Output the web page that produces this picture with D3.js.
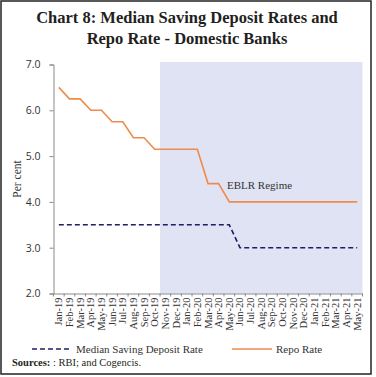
<!DOCTYPE html>
<html>
<head>
<meta charset="utf-8">
<script src="https://cdn.jsdelivr.net/npm/d3@7"></script>
<style>
  body { margin: 0; background: #fff; }
  svg { display: block; }
</style>
</head>
<body>
<svg id="chart" width="376" height="377"></svg>
<script>
// Months on the x axis
const months = ["Jan-19","Feb-19","Mar-19","Apr-19","May-19","Jun-19","Jul-19","Aug-19","Sep-19","Oct-19",
  "Nov-19","Dec-19","Jan-20","Feb-20","Mar-20","Apr-20","May-20","Jun-20","Jul-20","Aug-20","Sep-20",
  "Oct-20","Nov-20","Dec-20","Jan-21","Feb-21","Mar-21","Apr-21","May-21"];

// Median saving deposit rate (per cent)
const savingRate = [3.5,3.5,3.5,3.5,3.5,3.5,3.5,3.5,3.5,3.5,
  3.5,3.5,3.5,3.5,3.5,3.5,3.5,3.0,3.0,3.0,3.0,
  3.0,3.0,3.0,3.0,3.0,3.0,3.0,3.0];

// Repo rate (per cent)
const repoRate = [6.5,6.25,6.25,6.0,6.0,5.75,5.75,5.4,5.4,5.15,
  5.15,5.15,5.15,5.15,4.4,4.4,4.0,4.0,4.0,4.0,4.0,
  4.0,4.0,4.0,4.0,4.0,4.0,4.0,4.0];

const yTicks = [2.0, 3.0, 4.0, 5.0, 6.0, 7.0];
const eblrStart = "Nov-19";

const svg = d3.select("#chart");
const plotLeft = 53.5, plotRight = 362.5, plotTop = 64.5, plotBottom = 293.5;

const x = d3.scaleBand().domain(months).range([plotLeft, plotRight]);
const y = d3.scaleLinear().domain([2, 7]).range([plotBottom, plotTop]);

const serif = "'Liberation Serif', 'DejaVu Serif', serif";
const sans = "'Open Sans', 'Liberation Sans', sans-serif";

// Frame
svg.append("rect")
  .attr("x", 1).attr("y", 1)
  .attr("width", 370).attr("height", 373)
  .attr("fill", "none").attr("stroke", "#222").attr("stroke-width", 1.5);

// Title
const title = svg.append("text")
  .attr("text-anchor", "middle")
  .style("font-family", serif)
  .style("font-weight", "bold")
  .style("font-size", "16.5px")
  .attr("fill", "#231f20");
title.append("tspan").attr("x", 187).attr("y", 23).text("Chart 8: Median Saving Deposit Rates and");
title.append("tspan").attr("x", 187).attr("y", 44).text("Repo Rate - Domestic Banks");

// EBLR regime shading
svg.append("rect")
  .attr("x", x(eblrStart))
  .attr("y", 62)
  .attr("width", plotRight - x(eblrStart))
  .attr("height", plotBottom - 62)
  .attr("fill", "#e0e3f3");

// Y axis
const yAxis = svg.append("g")
  .attr("transform", `translate(${plotLeft},0)`)
  .call(d3.axisLeft(y).tickValues(yTicks).tickFormat(d3.format(".1f")).tickSize(4).tickPadding(9));
yAxis.select(".domain").attr("stroke", "#8a8a8a");
yAxis.selectAll(".tick line").attr("stroke", "#8a8a8a");
yAxis.selectAll("text")
  .style("font-family", sans).style("font-size", "10.5px").attr("fill", "#333");

// X axis
const xAxis = svg.append("g")
  .attr("transform", `translate(0,${plotBottom})`)
  .call(d3.axisBottom(x).tickSize(0).tickPadding(0));
xAxis.select(".domain").attr("stroke", "#8a8a8a");
xAxis.selectAll("text")
  .style("font-family", serif).style("font-size", "10.5px").attr("fill", "#333")
  .attr("text-anchor", "end")
  .attr("transform", "translate(3.5,4) rotate(-90)")
  .attr("dy", 0).attr("y", 0).attr("x", 0);
// small ticks at band boundaries
xAxis.selectAll(".bound")
  .data(months.concat(["end"]))
  .join("line")
  .attr("class", "bound")
  .attr("x1", (d, i) => plotLeft + i * x.step())
  .attr("x2", (d, i) => plotLeft + i * x.step())
  .attr("y1", 0).attr("y2", 3)
  .attr("stroke", "#8a8a8a");

// Y axis title
svg.append("text")
  .attr("transform", `translate(21,${(plotTop + plotBottom) / 2}) rotate(-90)`)
  .attr("text-anchor", "middle")
  .style("font-family", serif).style("font-size", "11.5px").attr("fill", "#333")
  .text("Per cent");

const line = d3.line()
  .x((d, i) => x(months[i]) + x.bandwidth() / 2)
  .y(d => y(d));

svg.append("path")
  .datum(savingRate)
  .attr("d", line)
  .attr("fill", "none")
  .attr("stroke", "#1f1f66")
  .attr("stroke-width", 1.6)
  .attr("stroke-dasharray", "5,3");

svg.append("path")
  .datum(repoRate)
  .attr("d", line)
  .attr("fill", "none")
  .attr("stroke", "#ee8b4f")
  .attr("stroke-width", 1.6);

// Annotation
svg.append("text")
  .attr("x", 227).attr("y", 189)
  .style("font-family", serif).style("font-size", "11px").attr("fill", "#333")
  .text("EBLR Regime");

// Legend
const legend = svg.append("g");
legend.append("line")
  .attr("x1", 32).attr("x2", 72).attr("y1", 349).attr("y2", 349)
  .attr("stroke", "#1f1f66").attr("stroke-width", 1.6).attr("stroke-dasharray", "5,3");
legend.append("text")
  .attr("x", 76).attr("y", 353)
  .style("font-family", serif).style("font-size", "11px").attr("fill", "#333")
  .text("Median Saving Deposit Rate");
legend.append("line")
  .attr("x1", 232).attr("x2", 272).attr("y1", 349).attr("y2", 349)
  .attr("stroke", "#ee8b4f").attr("stroke-width", 1.6);
legend.append("text")
  .attr("x", 276).attr("y", 353)
  .style("font-family", serif).style("font-size", "11px").attr("fill", "#333")
  .text("Repo Rate");

// Source note
const src = svg.append("text")
  .attr("x", 12).attr("y", 366)
  .style("font-family", serif).style("font-size", "10.5px").attr("fill", "#231f20");
src.append("tspan").style("font-weight", "bold").text("Sources:");
src.append("tspan").text(" : RBI; and Cogencis.");
</script>
</body>
</html>
